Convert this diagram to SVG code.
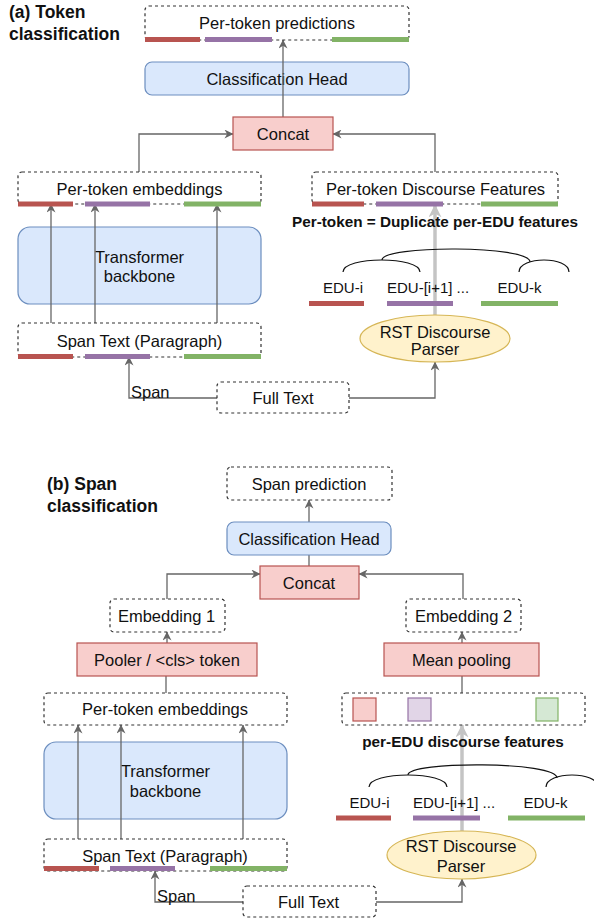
<svg xmlns="http://www.w3.org/2000/svg" width="594" height="919" viewBox="0 0 594 919">
<style>
text{font-family:"Liberation Sans",Arial,sans-serif;font-size:16.5px;fill:#111;text-anchor:middle}
.title{font-weight:bold;font-size:17.5px;text-anchor:start}
.bold{font-weight:bold;font-size:15.3px}
.edu{font-size:15px}
.dash{fill:#fff;stroke:#333;stroke-width:1.2;stroke-dasharray:3 3}
.blue{fill:#dae8fc;stroke:#6c8ebf;stroke-width:1.2}
.red{fill:#f8cecc;stroke:#b85450;stroke-width:1.2}
.yel{fill:#fff2cc;stroke:#d6b656;stroke-width:1.2}
.sqp{fill:#e1d5e7;stroke:#9673a6;stroke-width:1.2}
.sqg{fill:#d5e8d4;stroke:#82b366;stroke-width:1.2}
.br{stroke:#b85450;stroke-width:5}
.bp{stroke:#9673a6;stroke-width:5}
.bg{stroke:#82b366;stroke-width:5}
.conn{fill:none;stroke:#666;stroke-width:1.3}
.arr{marker-end:url(#ah)}
.thick{fill:none;stroke:#c4c4c4;stroke-width:3.5;marker-end:url(#gh)}
.tree{fill:none;stroke:#111;stroke-width:1.2}
</style>
<defs>
<marker id="ah" viewBox="0 0 10 10" refX="9.5" refY="5" markerWidth="9" markerHeight="9" markerUnits="userSpaceOnUse" orient="auto"><path d="M0,0 L10,5 L0,10 L3,5 z" fill="#666"/></marker>
<marker id="gh" viewBox="0 0 10 10" refX="9.5" refY="5" markerWidth="13" markerHeight="13" markerUnits="userSpaceOnUse" orient="auto"><path d="M0,0 L10,5 L0,10 L3,5 z" fill="#c4c4c4"/></marker>
</defs>

<!-- nodes that connectors pass over -->
<g id="a-head">
<rect class="blue" x="145" y="62" width="264" height="33" rx="7"/>
<text x="277" y="85">Classification Head</text>
</g>
<g id="a-transformer">
<rect class="blue" x="18" y="227" width="243" height="77" rx="12"/>
<text x="139.5" y="263">Transformer</text>
<text x="139.5" y="282">backbone</text>
</g>
<g id="b-transformer">
<rect class="blue" x="44" y="742" width="243" height="77" rx="12"/>
<text x="165.5" y="777">Transformer</text>
<text x="165.5" y="797">backbone</text>
</g>

<!-- ===== connectors ===== -->
<g id="connectors">
<!-- (a) -->
<path class="thick" d="M435,315 V205"/>
<path class="conn arr" d="M283,117 V40"/>
<path class="conn arr" d="M139,172 V134 H233"/>
<path class="conn arr" d="M435,172 V134 H333"/>
<path class="conn arr" d="M51,323 V204"/>
<path class="conn arr" d="M95,323 V204"/>
<path class="conn arr" d="M217,323 V204"/>
<path class="conn arr" d="M217,398 H129 V357"/>
<path class="conn arr" d="M349,398 H435 V362"/>
<!-- (b) -->
<path class="thick" d="M462,831 V725"/>
<path class="conn" d="M309,566 V555"/>
<path class="conn arr" d="M309,522 V500"/>
<path class="conn arr" d="M167,599 V574 H260"/>
<path class="conn arr" d="M463,599 V574 H359"/>
<path class="conn arr" d="M167,643 V632"/>
<path class="conn arr" d="M462,643 V632"/>
<path class="conn" d="M166,693 V676"/>
<path class="conn" d="M462,693 V676"/>
<path class="conn arr" d="M78,839 V725"/>
<path class="conn arr" d="M121,839 V725"/>
<path class="conn arr" d="M243,839 V725"/>
<path class="conn arr" d="M243,902 H155 V871"/>
<path class="conn arr" d="M376,902 H462 V879"/>
</g>

<!-- ===== (a) Token classification ===== -->
<g id="title-a">
<text class="title" x="9" y="18">(a) Token</text>
<text class="title" x="9" y="40">classification</text>
</g>
<g id="a-pred">
<rect class="dash" x="145" y="6" width="264" height="34" rx="4"/>
<text x="277" y="29">Per-token predictions</text>
<line class="br" x1="145" y1="39.5" x2="200" y2="39.5"/>
<line class="bp" x1="205" y1="39.5" x2="272" y2="39.5"/>
<line class="bg" x1="332" y1="39.5" x2="409" y2="39.5"/>
</g>
<g id="a-concat">
<rect class="red" x="233" y="117" width="100" height="33"/>
<text x="283" y="140">Concat</text>
</g>
<g id="a-emb">
<rect class="dash" x="18" y="172" width="243" height="32" rx="4"/>
<text x="139.5" y="195">Per-token embeddings</text>
<line class="br" x1="18" y1="204" x2="73" y2="204"/>
<line class="bp" x1="85" y1="204" x2="150" y2="204"/>
<line class="bg" x1="184" y1="204" x2="261" y2="204"/>
</g>
<g id="a-disc">
<rect class="dash" x="312" y="172" width="246" height="32" rx="4"/>
<text x="435.5" y="195">Per-token Discourse Features</text>
<line class="br" x1="312" y1="204" x2="364" y2="204"/>
<line class="bp" x1="376" y1="204" x2="443" y2="204"/>
<line class="bg" x1="481" y1="204" x2="558" y2="204"/>
</g>
<g id="a-note">
<text class="bold" x="435" y="227">Per-token = Duplicate per-EDU features</text>
</g>
<g id="a-span">
<rect class="dash" x="18" y="323" width="243" height="34" rx="4" style="fill:none"/>
<text x="139.5" y="347">Span Text (Paragraph)</text>
<line class="br" x1="18" y1="356.5" x2="73" y2="356.5"/>
<line class="bp" x1="85" y1="356.5" x2="150" y2="356.5"/>
<line class="bg" x1="184" y1="356.5" x2="261" y2="356.5"/>
</g>
<g id="a-edus">
<path class="tree" d="M343,272 C343,256 420,256 420,272"/>
<path class="tree" d="M382,260 C382,245 530,245 530,262"/>
<path class="tree" d="M519,272 C519,256 569,256 569,272"/>
<text class="edu" x="343" y="293">EDU-i</text>
<text class="edu" x="387" y="293" style="text-anchor:start">EDU-[i+1] ...</text>
<text class="edu" x="519.5" y="293">EDU-k</text>
<line class="br" x1="309" y1="303.5" x2="364" y2="303.5"/>
<line class="bp" x1="387" y1="303.5" x2="453" y2="303.5"/>
<line class="bg" x1="481" y1="303.5" x2="558" y2="303.5"/>
</g>
<g id="a-rst">
<ellipse class="yel" cx="435" cy="338.5" rx="75" ry="23.5"/>
<text x="435" y="338">RST Discourse</text>
<text x="435" y="355">Parser</text>
</g>
<g id="a-full">
<rect class="dash" x="217" y="382" width="132" height="31" rx="4"/>
<text x="283" y="404">Full Text</text>
</g>
<g id="a-spanlabel">
<text x="131" y="398" style="text-anchor:start">Span</text>
</g>

<!-- ===== (b) Span classification ===== -->
<g id="title-b">
<text class="title" x="47" y="490">(b) Span</text>
<text class="title" x="47" y="512">classification</text>
</g>
<g id="b-pred">
<rect class="dash" x="227" y="467" width="165" height="33" rx="4"/>
<text x="309" y="490">Span prediction</text>
</g>
<g id="b-head">
<rect class="blue" x="227" y="522" width="164" height="33" rx="7"/>
<text x="309" y="545">Classification Head</text>
</g>
<g id="b-concat">
<rect class="red" x="260" y="566" width="99" height="33"/>
<text x="309" y="589">Concat</text>
</g>
<g id="b-emb1">
<rect class="dash" x="110" y="599" width="115" height="33" rx="4"/>
<text x="166.5" y="622">Embedding 1</text>
</g>
<g id="b-emb2">
<rect class="dash" x="406" y="599" width="115" height="33" rx="4"/>
<text x="463.5" y="622">Embedding 2</text>
</g>
<g id="b-pooler">
<rect class="red" x="77" y="643" width="180" height="33"/>
<text x="167" y="666">Pooler / &lt;cls&gt; token</text>
</g>
<g id="b-mean">
<rect class="red" x="384" y="643" width="155" height="33"/>
<text x="461.5" y="666">Mean pooling</text>
</g>
<g id="b-emb">
<rect class="dash" x="44" y="693" width="243" height="32" rx="4" style="fill:none"/>
<text x="165" y="715">Per-token embeddings</text>
</g>
<g id="b-feat">
<rect class="dash" x="342" y="693" width="243" height="32" rx="4" style="fill:none"/>
<rect class="red" x="353" y="698" width="23" height="23"/>
<rect class="sqp" x="408" y="698" width="23" height="23"/>
<rect class="sqg" x="536" y="698" width="22" height="23"/>
</g>
<g id="b-note">
<text class="bold" x="463" y="747">per-EDU discourse features</text>
</g>
<g id="b-span">
<rect class="dash" x="44" y="839" width="243" height="32" rx="4" style="fill:none"/>
<text x="165" y="862">Span Text (Paragraph)</text>
<line class="br" x1="44" y1="868.5" x2="99" y2="868.5"/>
<line class="bp" x1="110" y1="868.5" x2="175" y2="868.5"/>
<line class="bg" x1="210" y1="868.5" x2="287" y2="868.5"/>
</g>
<g id="b-edus">
<path class="tree" d="M369,787 C369,771 447,771 447,787"/>
<path class="tree" d="M408,775 C408,761 557,761 557,778"/>
<path class="tree" d="M546,787 C546,771 598,771 598,787"/>
<text class="edu" x="369.5" y="808">EDU-i</text>
<text class="edu" x="413" y="808" style="text-anchor:start">EDU-[i+1] ...</text>
<text class="edu" x="545.5" y="808">EDU-k</text>
<line class="br" x1="336" y1="818" x2="391" y2="818"/>
<line class="bp" x1="413" y1="818" x2="480" y2="818"/>
<line class="bg" x1="508" y1="818" x2="585" y2="818"/>
</g>
<g id="b-rst">
<ellipse class="yel" cx="461.5" cy="855" rx="74.5" ry="24"/>
<text x="461" y="852">RST Discourse</text>
<text x="461" y="872">Parser</text>
</g>
<g id="b-full">
<rect class="dash" x="243" y="886" width="133" height="31" rx="4"/>
<text x="308.5" y="908">Full Text</text>
</g>
<g id="b-spanlabel">
<text x="157" y="902" style="text-anchor:start">Span</text>
</g>
</svg>
